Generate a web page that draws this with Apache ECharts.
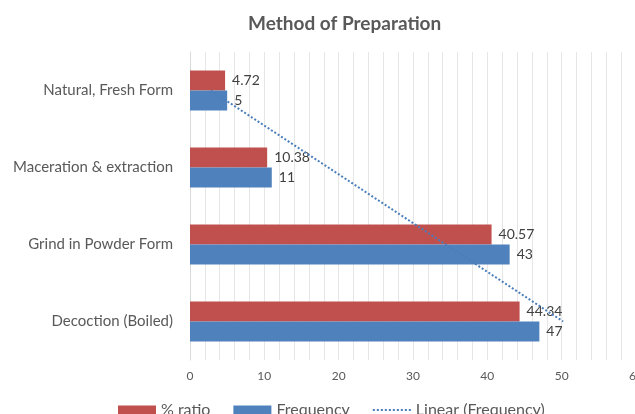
<!DOCTYPE html>
<html>
<head>
<meta charset="utf-8">
<script src="https://cdn.jsdelivr.net/npm/echarts@6/dist/echarts.min.js"></script>
<style>
  html, body { margin: 0; padding: 0; background: #fff; }
  #chart { width: 635px; height: 414px; }
</style>
</head>
<body>
<div id="chart"></div>
<script>
// Preparation methods, listed top to bottom
const categories = ['Natural, Fresh Form', 'Maceration & extraction', 'Grind in Powder Form', 'Decoction (Boiled)'];
const ratioValues = [4.72, 10.38, 40.57, 44.34];
const frequencyValues = [5, 11, 43, 47];
const xTickLabels = [0, 10, 20, 30, 40, 50, 60];

// Least-squares linear trend of frequency over category position (1..n)
function linearTrend(values) {
  const n = values.length;
  const xs = values.map((_, i) => i + 1);
  const mx = xs.reduce((a, b) => a + b, 0) / n;
  const my = values.reduce((a, b) => a + b, 0) / n;
  let num = 0, den = 0;
  for (let i = 0; i < n; i++) {
    num += (xs[i] - mx) * (values[i] - my);
    den += (xs[i] - mx) * (xs[i] - mx);
  }
  const slope = num / den;
  const intercept = my - slope * mx;
  return xs.map(x => intercept + slope * x);
}
const trend = linearTrend(frequencyValues);

const FONT = 'Lato';
const RED = '#C0504D';
const BLUE = '#4F81BD';
const TREND = '#4A7EBB';

// dotted legend key for the trend line
let dots = '';
for (let i = 0; i < 10; i++) dots += 'M' + (i * 4) + ',0h2v2h-2z';
const dottedIcon = 'path://' + dots;

const chart = echarts.init(document.getElementById('chart'), null, { renderer: 'canvas' });
chart.setOption({
  animation: false,
  textStyle: { fontFamily: FONT },
  title: {
    text: 'Method of Preparation',
    left: 243,
    top: 9,
    textStyle: { fontFamily: FONT, fontSize: 19, fontWeight: 'bold', color: '#595959' }
  },
  legend: {
    left: 118,
    top: 402,
    padding: 0,
    itemWidth: 38,
    itemHeight: 9,
    itemGap: 23,
    textStyle: { fontFamily: FONT, fontSize: 16, lineHeight: 10, color: '#595959' },
    data: [
      { name: '% ratio', icon: 'rect' },
      { name: 'Frequency', icon: 'rect' },
      { name: 'Linear (Frequency)', icon: dottedIcon }
    ]
  },
  grid: { left: 190, top: 52, width: 446, height: 308, containLabel: false, outerBoundsMode: 'none' },
  xAxis: {
    type: 'value',
    min: 0,
    max: 60,
    interval: 2,
    axisLine: { show: false },
    axisTick: { show: false },
    splitLine: { show: true, lineStyle: { color: '#E6E6E6', width: 1 } },
    axisLabel: {
      color: '#595959',
      fontSize: 12,
      margin: 10,
      formatter: v => (xTickLabels.indexOf(v) >= 0 ? String(v) : '')
    }
  },
  yAxis: {
    type: 'category',
    inverse: true,
    data: categories,
    axisLine: { show: true, lineStyle: { color: '#D9D9D9' } },
    axisTick: { show: false },
    axisLabel: { color: '#595959', fontSize: 15, margin: 17 }
  },
  series: [
    {
      name: '% ratio',
      type: 'bar',
      data: ratioValues,
      barWidth: 20,
      barGap: '0%',
      itemStyle: { color: RED },
      label: { show: true, position: 'right', distance: 7, color: '#404040', fontSize: 14, fontFamily: FONT }
    },
    {
      name: 'Frequency',
      type: 'bar',
      data: frequencyValues,
      barWidth: 20,
      barGap: '0%',
      itemStyle: { color: BLUE },
      label: { show: true, position: 'right', distance: 7, color: '#404040', fontSize: 14, fontFamily: FONT }
    },
    {
      name: 'Linear (Frequency)',
      type: 'line',
      data: trend.map((v, i) => [v, categories[i]]),
      symbol: 'none',
      z: 5,
      lineStyle: { color: TREND, width: 2, type: [2, 2] },
      itemStyle: { color: TREND }
    }
  ]
});
</script>
</body>
</html>
